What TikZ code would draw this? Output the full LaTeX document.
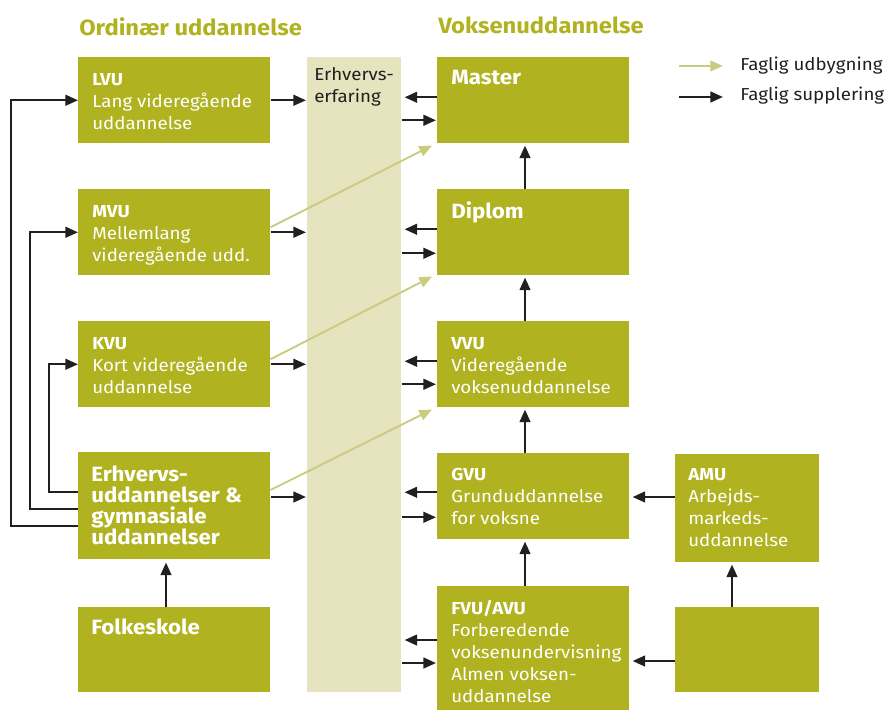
\documentclass[tikz,border=0pt]{standalone}
\usepackage{fontspec}
\setmainfont{Fira Sans}[FakeStretch=1.08]
\usetikzlibrary{arrows.meta,calc}
\definecolor{boxc}{HTML}{B0B31F}
\definecolor{colc}{HTML}{E6E3BF}
\definecolor{arrg}{HTML}{C9CB7F}
\definecolor{dark}{HTML}{231F20}
\tikzset{
  box/.style={fill=boxc, draw=none, anchor=north west, inner sep=0pt, minimum width=144pt, minimum height=64.5pt},
  txt/.style={anchor=north west, inner sep=0pt, text=white, align=left, font=\fontsize{13}{16.5}\selectfont},
  bigtxt/.style={txt, font=\fontsize{15.5}{15.75}\selectfont\bfseries},
  head/.style={anchor=north west, inner sep=0pt, text=boxc, font=\fontsize{16.5}{20}\selectfont\bfseries},
  legtxt/.style={anchor=north west, inner sep=0pt, text=dark, align=left, font=\fontsize{13}{16.5}\selectfont},
  arr/.style={draw=dark, line width=1.8pt, -{Triangle[length=9.5pt,width=8pt]}},
  garr/.style={draw=arrg, line width=1.4pt, -{Triangle[length=9.5pt,width=8pt]}}
}
\begin{document}
\begin{tikzpicture}[x=0.75pt,y=-0.75pt]
\useasboundingbox (0,0) rectangle (887,710);
% headers
\node[head] (h1) at (79,17) {Ordinær uddannelse};
\node[head] (h2) at (438,17) {Voksenuddannelse};
% column
\node[box, fill=colc, minimum width=70.5pt, minimum height=476.25pt] (col) at (307,57) {};
\node[legtxt] (colt) at (314,67) {Erhvervs-\\erfaring};
% left boxes
\node[box] (lvu) at (78,57) {};
\node[box] (mvu) at (78,189) {};
\node[box] (kvu) at (78,321) {};
\node[box, minimum height=80.25pt] (erh) at (78,452) {};
\node[box, minimum height=63.75pt] (fol) at (78,607) {};
% right boxes
\node[box] (mas) at (437,57) {};
\node[box] (dip) at (437,189) {};
\node[box] (vvu) at (437,321) {};
\node[box] (gvu) at (437,453) {};
\node[box, minimum height=93pt] (fvu) at (437,586) {};
\node[box, minimum width=108pt, minimum height=81pt] (amu) at (675,454) {};
\node[box, minimum width=108pt, minimum height=63.75pt] (emp) at (675,607) {};
% texts
\node[txt] (lvut) at (92,73) {\textbf{LVU}\\Lang videregående\\uddannelse};
\node[txt] (mvut) at (92,205) {\textbf{MVU}\\Mellemlang\\videregående udd.};
\node[txt] (kvut) at (92,337) {\textbf{KVU}\\Kort videregående\\uddannelse};
\node[bigtxt] (erht) at (91,466) {Erhvervs-\\uddannelser \&\\gymnasiale\\uddannelser};
\node[bigtxt] (folt) at (91,619) {Folkeskole};
\node[bigtxt] (mast) at (451,70) {Master};
\node[bigtxt] (dipt) at (451,201) {Diplom};
\node[txt] (vvut) at (451,337) {\textbf{VVU}\\Videregående\\voksenuddannelse};
\node[txt] (gvut) at (451,468) {\textbf{GVU}\\Grunduddannelse\\for voksne};
\node[txt] (fvut) at (451,600) {\textbf{FVU/AVU}\\Forberedende\\voksenundervisning\\Almen voksen-\\uddannelse};
\node[txt] (amut) at (688,468) {\textbf{AMU}\\Arbejds-\\markeds-\\uddannelse};
% legend
\coordinate (lg1) at (679,66);
\coordinate (lg2) at (679,97);
\node[legtxt] (lt1) at (740,57) {Faglig udbygning};
\node[legtxt] (lt2) at (740,87) {Faglig supplering};
\draw[garr] (lg1) -- ($(lg1)+(44,0)$);
\draw[arr] (lg2) -- ($(lg2)+(44,0)$);
% left loops
\draw[arr] ($(erh.north west)+(0,74)$) -- ++(-67,0) |- (lvu.west);
\draw[arr] ($(erh.north west)+(0,57)$) -- ++(-48,0) |- (mvu.west);
\draw[arr] ($(erh.north west)+(0,40)$) -- ++(-29,0) |- (kvu.west);
% folkeskole up
\draw[arr] ($(fol.north west)+(88,0)$) -- ($(erh.south west)+(88,3)$);
% left boxes to column
\draw[arr] (lvu.east) -- ($(lvu.east -| col.west)+(-1,0)$);
\draw[arr] (mvu.east) -- ($(mvu.east -| col.west)+(-1,0)$);
\draw[arr] (kvu.east) -- ($(kvu.east -| col.west)+(-1,0)$);
\draw[arr] ($(erh.north east)+(0,45)$) -- ($(erh.north east -| col.west)+(-1,45)$);
% column <-> right boxes
\foreach \b/\u/\d in {mas/-3/20, dip/-3/21, vvu/-3/20, gvu/-4/21}{
  \draw[arr] ($(\b.west)+(0,\u)$) -- ($(\b.west -| col.east)+(3,\u)$);
  \draw[arr] ($(\b.west -| col.east)+(0,\d)$) -- ($(\b.west)+(-1,\d)$);
}
\draw[arr] ($(fvu.north west)+(0,54)$) -- ($(fvu.north west -| col.east)+(3,54)$);
\draw[arr] ($(fvu.north west -| col.east)+(0,77)$) -- ($(fvu.north west)+(-1,77)$);
% vertical right chain
\draw[arr] ($(dip.north west)+(88,0)$) -- ($(mas.south west)+(88,2)$);
\draw[arr] ($(vvu.north west)+(88,0)$) -- ($(dip.south west)+(88,2)$);
\draw[arr] ($(gvu.north west)+(88,0)$) -- ($(vvu.south west)+(88,2)$);
\draw[arr] ($(fvu.north west)+(88,0)$) -- ($(gvu.south west)+(88,2)$);
% AMU and empty box
\draw[arr] ($(amu.north west)+(0,43)$) -- ($(gvu.north east)+(3,44)$);
\draw[arr] ($(emp.north west)+(0,54)$) -- ($(fvu.north east)+(3,75)$);
\draw[arr] ($(emp.north west)+(57,0)$) -- ($(amu.south west)+(57,2)$);
% green arrows
\draw[garr] ($(mvu.east)+(0,-5)$) -- ($(mas.south west)+(-5,2)$);
\draw[garr] ($(kvu.east)+(0,-5)$) -- ($(dip.south west)+(-5,1)$);
\draw[garr] ($(erh.north east)+(0,38)$) -- ($(vvu.south west)+(-5,2)$);
\end{tikzpicture}
\end{document}
